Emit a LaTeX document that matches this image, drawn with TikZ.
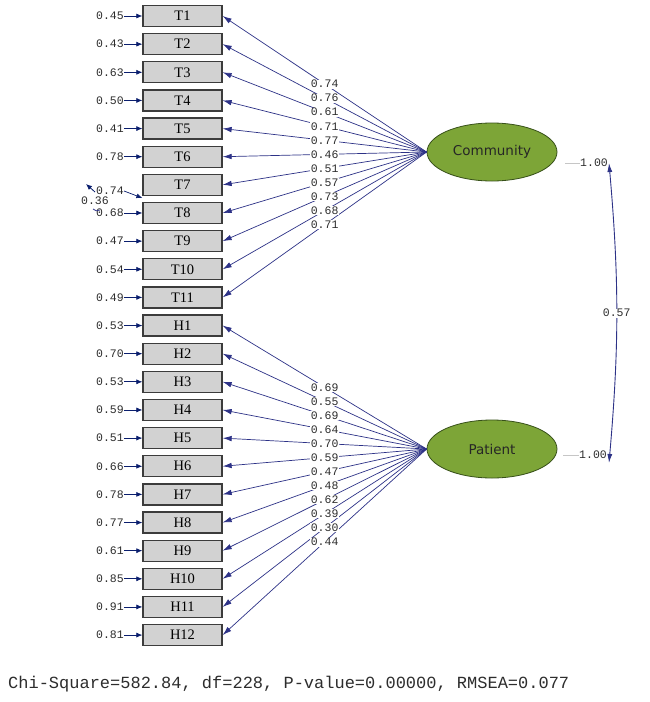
\documentclass[tikz,border=0pt]{standalone}
\usepackage{fontspec}
\setmainfont{Liberation Serif}
\newfontfamily\monof{Liberation Mono}
\newfontfamily\sansf{DejaVu Sans}
\usetikzlibrary{shapes.geometric,arrows.meta}
\definecolor{linec}{RGB}{45,50,135}
\definecolor{tipc}{RGB}{10,30,110}
\definecolor{olivefill}{RGB}{125,165,55}
\definecolor{oliveedge}{RGB}{55,80,25}
\definecolor{boxfill}{RGB}{210,210,210}
\definecolor{boxedge}{RGB}{60,60,60}
\definecolor{txt}{RGB}{45,45,45}
\tikzset{
  obs/.style={draw=boxedge, line width=1.3pt, fill=boxfill, minimum width=79pt, minimum height=21pt, inner sep=0pt, font=\fontsize{14.5}{15}\selectfont},
  latent/.style={ellipse, draw=oliveedge, line width=0.8pt, fill=olivefill, minimum width=130pt, minimum height=58pt, inner sep=0pt, font=\sansf\fontsize{13.5}{15}\selectfont, text=black!85},
  errlbl/.style={anchor=east, inner sep=0pt, font=\monof\fontsize{11.5}{12}\selectfont, text=txt},
  lbl/.style={fill=white, inner sep=0.6pt, font=\monof\fontsize{11.5}{12}\selectfont, text=txt},
  err/.style={draw=linec, line width=0.7pt, -{Latex[length=6pt,width=5pt]}, tipc},
  load/.style={draw=linec, line width=0.7pt, -{Latex[length=9pt,width=5.5pt]}},
  cov/.style={draw=linec, line width=0.9pt, {Latex[length=9pt,width=5pt]}-{Latex[length=9pt,width=5pt]}},
  varline/.style={draw=gray!45, line width=0.8pt}
}
\begin{document}
\begin{tikzpicture}[x=1pt,y=-1pt]
\useasboundingbox[fill=white] (0,0) rectangle (650,702);

% latent variables
\node[latent] (Com) at (492,152) {Community};
\node[latent] (Pat) at (492,449) {Patient};

% observed T items with error terms
\foreach \e [count=\i] in {0.45,0.43,0.63,0.50,0.41,0.78,0.74,0.68,0.47,0.54,0.49} {
  \pgfmathsetmacro\yy{16+(\i-1)*28.14}
  \node[obs] (T\i) at (182.5,\yy) {T\i};
}
\foreach \e [count=\i] in {0.45,0.43,0.63,0.50,0.41,0.78} {
  \pgfmathsetmacro\yy{16+(\i-1)*28.14}
  \node[errlbl] (eT\i) at (124,\yy) {\e};
  \draw[err] (eT\i.east) -- (T\i.west);
}
\foreach \e [count=\i from 8] in {0.68,0.47,0.54,0.49} {
  \pgfmathsetmacro\yy{16+(\i-1)*28.14}
  \node[errlbl] (eT\i) at (124,\yy) {\e};
  \draw[err] (eT\i.east) -- (T\i.west);
}
% T7 error and correlated error with T8
\node[errlbl] (eT7) at (124,191) {0.74};
\coordinate (t7c) at ([yshift=-2pt]T7.south west);
\draw[err] (eT7.east) -- (t7c);
\coordinate (cvA) at (86,184);
\coordinate (cvB) at (93,209);
\coordinate (cvAs) at (95,192);
\coordinate (cvBs) at (100,210);
\draw[draw=linec, line width=0.8pt, -{Latex[length=6pt,width=5pt]}, tipc] (cvAs) -- (cvA);
\draw[draw=linec, line width=0.8pt] (cvBs) to[bend left=40] (cvB);
\node[lbl] (r36) at (95,201) {0.36};

% observed H items with error terms
\foreach \e [count=\j] in {0.53,0.70,0.53,0.59,0.51,0.66,0.78,0.77,0.61,0.85,0.91,0.81} {
  \pgfmathsetmacro\yy{16+(10+\j)*28.14}
  \node[obs] (H\j) at (182.5,\yy) {H\j};
  \node[errlbl] (eH\j) at (124,\yy) {\e};
  \draw[err] (eH\j.east) -- (H\j.west);
}

% loadings
\foreach \l [count=\i] in {0.74,0.76,0.61,0.71,0.77,0.46,0.51,0.57,0.73,0.68,0.71} {
  \draw[load] (Com.west) -- (T\i.east);
}
\foreach \l [count=\j] in {0.69,0.55,0.69,0.64,0.70,0.59,0.47,0.48,0.62,0.39,0.30,0.44} {
  \draw[load] (Pat.west) -- (H\j.east);
}
\foreach \l [count=\i] in {0.74,0.76,0.61,0.71,0.77,0.46,0.51,0.57,0.73,0.68,0.71} {
  \path (Com.west) -- node[lbl]{\l} (T\i.east);
}
\foreach \l [count=\j] in {0.69,0.55,0.69,0.64,0.70,0.59,0.47,0.48,0.62,0.39,0.30,0.44} {
  \path (Pat.west) -- node[lbl]{\l} (H\j.east);
}

% variances
\coordinate (v1) at (565,163);
\node[errlbl, anchor=west] (var1) at (580,163) {1.00};
\draw[varline] (v1) -- (var1.west);
\coordinate (v2) at (563,455);
\node[errlbl, anchor=west] (var2) at (579,455) {1.00};
\draw[varline] (v2) -- (var2.west);

% covariance
\coordinate (cv1) at (609,163);
\coordinate (cv2) at (609,463);
\draw[cov] (cv1) to[bend left=5] (cv2);
\path (cv1) to[bend left=5] node[lbl]{0.57} (cv2);

% fit statistics
\node[anchor=west, inner sep=0pt, font=\monof\fontsize{17}{19}\selectfont, text=txt] (fit) at (8,684) {Chi-Square=582.84, df=228, P-value=0.00000, RMSEA=0.077};
\end{tikzpicture}
\end{document}
